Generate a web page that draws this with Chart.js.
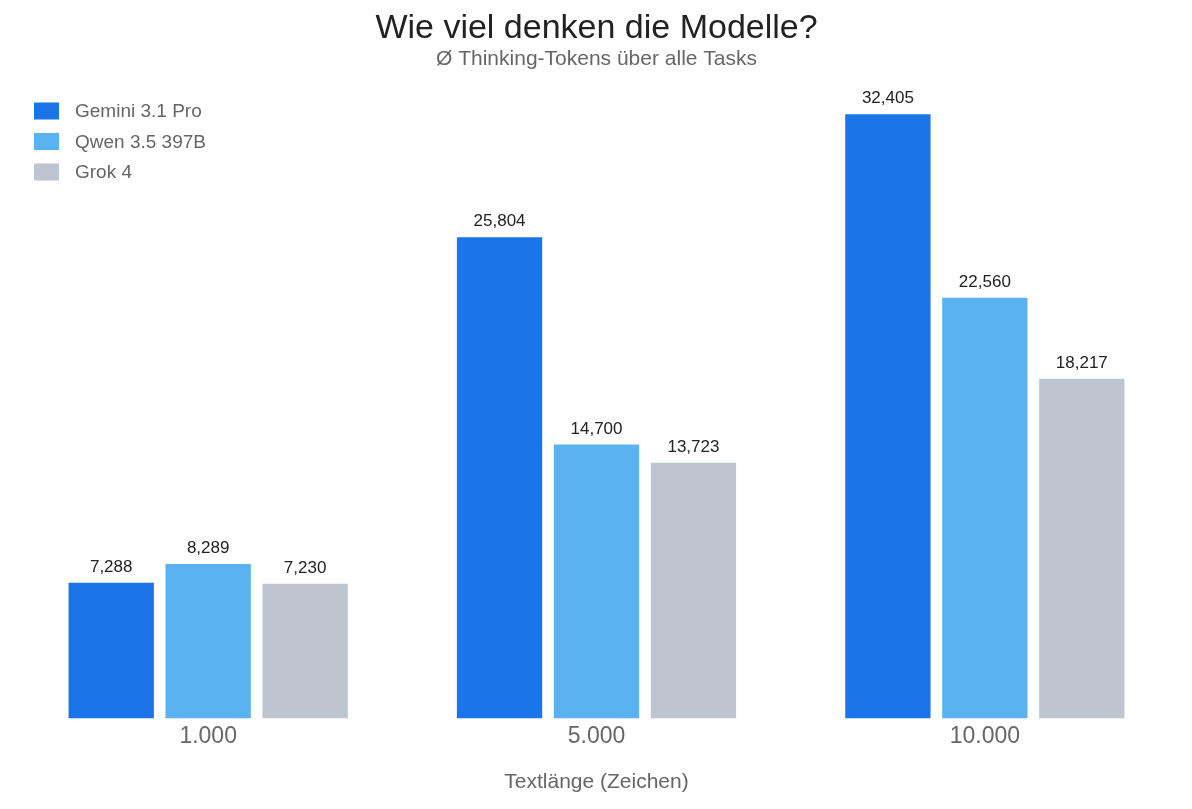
<!DOCTYPE html>
<html>
<head>
<meta charset="utf-8">
<script src="https://cdn.jsdelivr.net/npm/chart.js@4"></script>
<style>
  html, body { margin: 0; padding: 0; background: #fff; }
  #wrap { width: 1192px; height: 809px; }
</style>
</head>
<body>
<div id="wrap"><canvas id="thinkChart"></canvas></div>
<script>
// Textlänge categories and avg thinking tokens per model
const textLengths = ["1.000", "5.000", "10.000"];
const modelNames = ["Gemini 3.1 Pro", "Qwen 3.5 397B", "Grok 4"];
const geminiTokens = [7288, 25804, 32405];
const qwenTokens = [8289, 14700, 22560];
const grokTokens = [7230, 13723, 18217];
const modelColors = ["#1b74e8", "#5ab3f0", "#bec5d0"];

const fontFamily = "'Liberation Sans', Arial, Helvetica, sans-serif";

// draws the value above each bar
const valueLabels = {
  id: "valueLabels",
  afterDatasetsDraw(chart) {
    const ctx = chart.ctx;
    ctx.save();
    ctx.font = "17px " + fontFamily;
    ctx.fillStyle = "#222";
    ctx.textAlign = "center";
    ctx.textBaseline = "bottom";
    chart.data.datasets.forEach((ds, i) => {
      chart.getDatasetMeta(i).data.forEach((bar, j) => {
        ctx.fillText(ds.data[j].toLocaleString("en-US"), bar.x, bar.y - 7);
      });
    });
    ctx.restore();
  },
};

// simple legend in the top-left corner, stacked vertically
const cornerLegend = {
  id: "cornerLegend",
  afterDraw(chart) {
    const ctx = chart.ctx;
    ctx.save();
    ctx.font = "19px " + fontFamily;
    ctx.textBaseline = "middle";
    ctx.textAlign = "left";
    chart.data.datasets.forEach((ds, i) => {
      const y = 111 + i * 30.5;
      ctx.fillStyle = ds.backgroundColor;
      ctx.fillRect(34, y - 8.5, 25, 17);
      ctx.fillStyle = "#666";
      ctx.fillText(ds.label, 75, y + 1);
    });
    ctx.restore();
  },
};

new Chart(document.getElementById("thinkChart"), {
  type: "bar",
  data: {
    labels: textLengths,
    datasets: [
      { label: modelNames[0], data: geminiTokens, backgroundColor: modelColors[0] },
      { label: modelNames[1], data: qwenTokens, backgroundColor: modelColors[1] },
      { label: modelNames[2], data: grokTokens, backgroundColor: modelColors[2] },
    ],
  },
  options: {
    responsive: true,
    maintainAspectRatio: false,
    animation: false,
    categoryPercentage: 0.749,
    barPercentage: 0.88,
    layout: { padding: { left: 14, right: 13, top: 0, bottom: 0 } },
    scales: {
      x: {
        grid: { display: false, drawTicks: false },
        border: { display: false },
        ticks: { color: "#666", font: { family: fontFamily, size: 23 }, padding: 4 },
        title: {
          display: true,
          text: "Textlänge (Zeichen)",
          color: "#666",
          font: { family: fontFamily, size: 21 },
          padding: { top: 15, bottom: 14.6 },
        },
      },
      y: {
        display: false,
        min: 0,
        max: 34000,
      },
    },
    plugins: {
      title: {
        display: true,
        text: "Wie viel denken die Modelle?",
        color: "#222",
        font: { family: fontFamily, size: 34, weight: "normal", lineHeight: 1.05 },
        padding: { top: 11, bottom: 0 },
      },
      subtitle: {
        display: true,
        text: "Ø Thinking-Tokens über alle Tasks",
        color: "#666",
        font: { family: fontFamily, size: 21 },
        padding: { top: 0, bottom: 12.5 },
      },
      legend: { display: false },
      tooltip: { enabled: false },
    },
  },
  plugins: [valueLabels, cornerLegend],
});
</script>
</body>
</html>
